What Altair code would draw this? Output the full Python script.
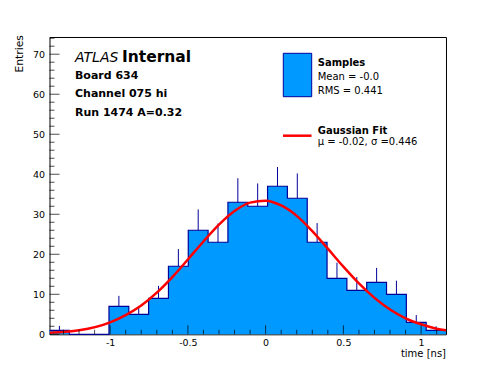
import altair as alt
import pandas as pd

# ---- data ----
bin_lo = [-1.39, -1.2625, -1.135, -1.0075, -0.88, -0.7525, -0.625, -0.4975, -0.37, -0.2425,
          -0.115, 0.0125, 0.14, 0.2675, 0.395, 0.5225, 0.65, 0.7775, 0.905, 1.0325]
bin_hi = [-1.2625, -1.135, -1.0075, -0.88, -0.7525, -0.625, -0.4975, -0.37, -0.2425, -0.115,
          0.0125, 0.14, 0.2675, 0.395, 0.5225, 0.65, 0.7775, 0.905, 1.0325, 1.16]
counts = [1, 0, 0, 7, 5, 9, 17, 26, 23, 33, 32, 37, 34, 23, 14, 11, 13, 10, 3, 1]
err_up = [1.1, 0, 0, 2.6, 1.6, 3.1, 4.3, 5.2, 4.7, 6.0, 5.7, 4.8, 6.2, 4.8, 3.9, 3.3, 3.6, 3.4, 1.8, 1.0]

fit_x = [-1.39, -1.2, -1.0, -0.9, -0.8, -0.7, -0.6, -0.5, -0.4, -0.3, -0.2, -0.1, 0.0,
         0.1, 0.2, 0.3, 0.4, 0.5, 0.6, 0.7, 0.8, 0.9, 1.0, 1.1, 1.16]
fit_y = [0.4, 1.0, 3.0, 4.8, 7.2, 10.4, 14.3, 18.7, 23.2, 27.4, 30.8, 32.9, 33.4,
         32.2, 29.6, 25.8, 21.4, 16.9, 12.7, 9.1, 6.2, 4.0, 2.5, 1.4, 1.0]

x_major = [-1, -0.5, 0, 0.5, 1]
x_minor = [-1.3, -1.2, -1.1, -0.9, -0.8, -0.7, -0.6, -0.4, -0.3, -0.2, -0.1,
           0.1, 0.2, 0.3, 0.4, 0.6, 0.7, 0.8, 0.9, 1.1]
y_major = [0, 10, 20, 30, 40, 50, 60, 70]
y_minor = [2, 4, 6, 8, 12, 14, 16, 18, 22, 24, 26, 28, 32, 34, 36, 38, 42, 44, 46, 48,
           52, 54, 56, 58, 62, 64, 66, 68, 72, 74]

x_domain = [-1.39, 1.16]
y_domain = [0, 74.3]

label_lines = ["Board 634", "Channel 075 hi", "Run 1474 A=0.32"]
legend_texts = ["Samples", "Mean = -0.0", "RMS = 0.441", "Gaussian Fit", "\u03bc = -0.02, \u03c3 =0.446"]

# ---- layout (pixels) ----
W, H = 396.5, 297.3
FONT = "DejaVu Sans"
FILL = "#0099ff"
EDGE = "#000099"

hist = pd.DataFrame({"lo": bin_lo, "hi": bin_hi, "n": counts,
                     "top": [c + e for c, e in zip(counts, err_up)],
                     "mid": [(a + b) / 2 for a, b in zip(bin_lo, bin_hi)]})
step = pd.DataFrame({"x": bin_lo + [bin_hi[-1]], "y": counts + [counts[-1]]})
fit = pd.DataFrame({"x": fit_x, "y": fit_y})

xs = alt.Scale(domain=x_domain, nice=False, zero=False)
ys = alt.Scale(domain=y_domain, nice=False, zero=False)

xax = alt.Axis(values=x_major, ticks=False, domain=False, grid=False, labelPadding=3,
               labelFont=FONT, labelFontSize=9.5, labelColor="black",
               labelExpr="toString(datum.value)", title="")
yax = alt.Axis(values=y_major, ticks=False, domain=False, grid=False, labelPadding=5,
               labelFont=FONT, labelFontSize=9.5, labelColor="black", title="")

fill = alt.Chart(step).mark_area(fill=FILL, interpolate="step-after", opacity=1).encode(
    x=alt.X("x:Q", scale=xs, axis=xax),
    y=alt.Y("y:Q", scale=ys, axis=yax), y2=alt.datum(0))

outline = alt.Chart(step).mark_line(color=EDGE, strokeWidth=1.2, interpolate="step-after").encode(
    x=alt.X("x:Q", scale=xs), y=alt.Y("y:Q", scale=ys))

errs = alt.Chart(hist).transform_filter("datum.n > 0").mark_rule(color=EDGE, strokeWidth=1).encode(
    x=alt.X("mid:Q", scale=xs), y=alt.Y("n:Q", scale=ys), y2="top:Q")

curve = alt.Chart(fit).mark_line(color="red", strokeWidth=2.5, interpolate="monotone", clip=True).encode(
    x=alt.X("x:Q", scale=xs), y=alt.Y("y:Q", scale=ys))

def xticks(vals, length):
    return alt.Chart(pd.DataFrame({"v": vals})).mark_tick(
        orient="vertical", color="black", thickness=1, size=length).encode(
        x=alt.X("v:Q", scale=xs), y=alt.value(H - length / 2))

def yticks(vals, length):
    return alt.Chart(pd.DataFrame({"v": vals})).mark_tick(
        orient="horizontal", color="black", thickness=1, size=length).encode(
        y=alt.Y("v:Q", scale=ys), x=alt.value(length / 2))

one = pd.DataFrame({"a": [0]})

def txt(s, x, y, size, weight="normal", style="normal", align="left", angle=0, baseline="alphabetic"):
    kw = dict(text=s, font=FONT, fontSize=size, fontWeight=weight, fontStyle=style,
              align=align, baseline=baseline, color="black")
    if angle:
        kw["angle"] = angle
    return alt.Chart(one).mark_text(**kw).encode(x=alt.value(x), y=alt.value(y))

ox, oy = 49.5, 37.0
layers = [fill, errs, outline, curve,
          xticks(x_major, 9), xticks(x_minor, 4.5),
          yticks(y_major, 10), yticks(y_minor, 5),
          txt("ATLAS", 75 - ox, 61.7 - oy, 14, style="italic"),
          txt("Internal", 122 - ox, 61.7 - oy, 15.5, weight="bold"),
          txt(label_lines[0], 75 - ox, 79.3 - oy, 11, weight="bold"),
          txt(label_lines[1], 75 - ox, 97.5 - oy, 11, weight="bold"),
          txt(label_lines[2], 75 - ox, 116 - oy, 11, weight="bold"),
          alt.Chart(one).mark_rect(fill=FILL, stroke=EDGE, strokeWidth=1).encode(
              x=alt.value(283.3 - ox), x2=alt.value(311.7 - ox),
              y=alt.value(53.3 - oy), y2=alt.value(96.7 - oy)),
          alt.Chart(one).mark_rule(color="red", strokeWidth=2.5).encode(
              x=alt.value(283 - ox), x2=alt.value(311.5 - ox), y=alt.value(135.7 - oy)),
          txt(legend_texts[0], 317.7 - ox, 65.7 - oy, 10, weight="bold"),
          txt(legend_texts[1], 317.7 - ox, 80 - oy, 10),
          txt(legend_texts[2], 317.7 - ox, 94 - oy, 10),
          txt(legend_texts[3], 317.7 - ox, 134 - oy, 10, weight="bold"),
          txt(legend_texts[4], 317.7 - ox, 145 - oy, 10),
          txt("time [ns]", 446 - ox, 357.5 - oy, 10, align="right"),
          txt("Entries", 19.5 - ox, 35 - oy, 10.8, align="right", angle=270, baseline="middle"),
          ]

chart = alt.layer(*layers).properties(
    width=W, height=H,
    autosize=alt.AutoSizeParams(type="none"),
    padding={"left": ox - 8, "top": oy - 8, "right": 38, "bottom": 28},
    background="white",
).configure_view(stroke="black", strokeWidth=1)

chart.save("out.html", embed_options={"renderer": "svg", "actions": False})
